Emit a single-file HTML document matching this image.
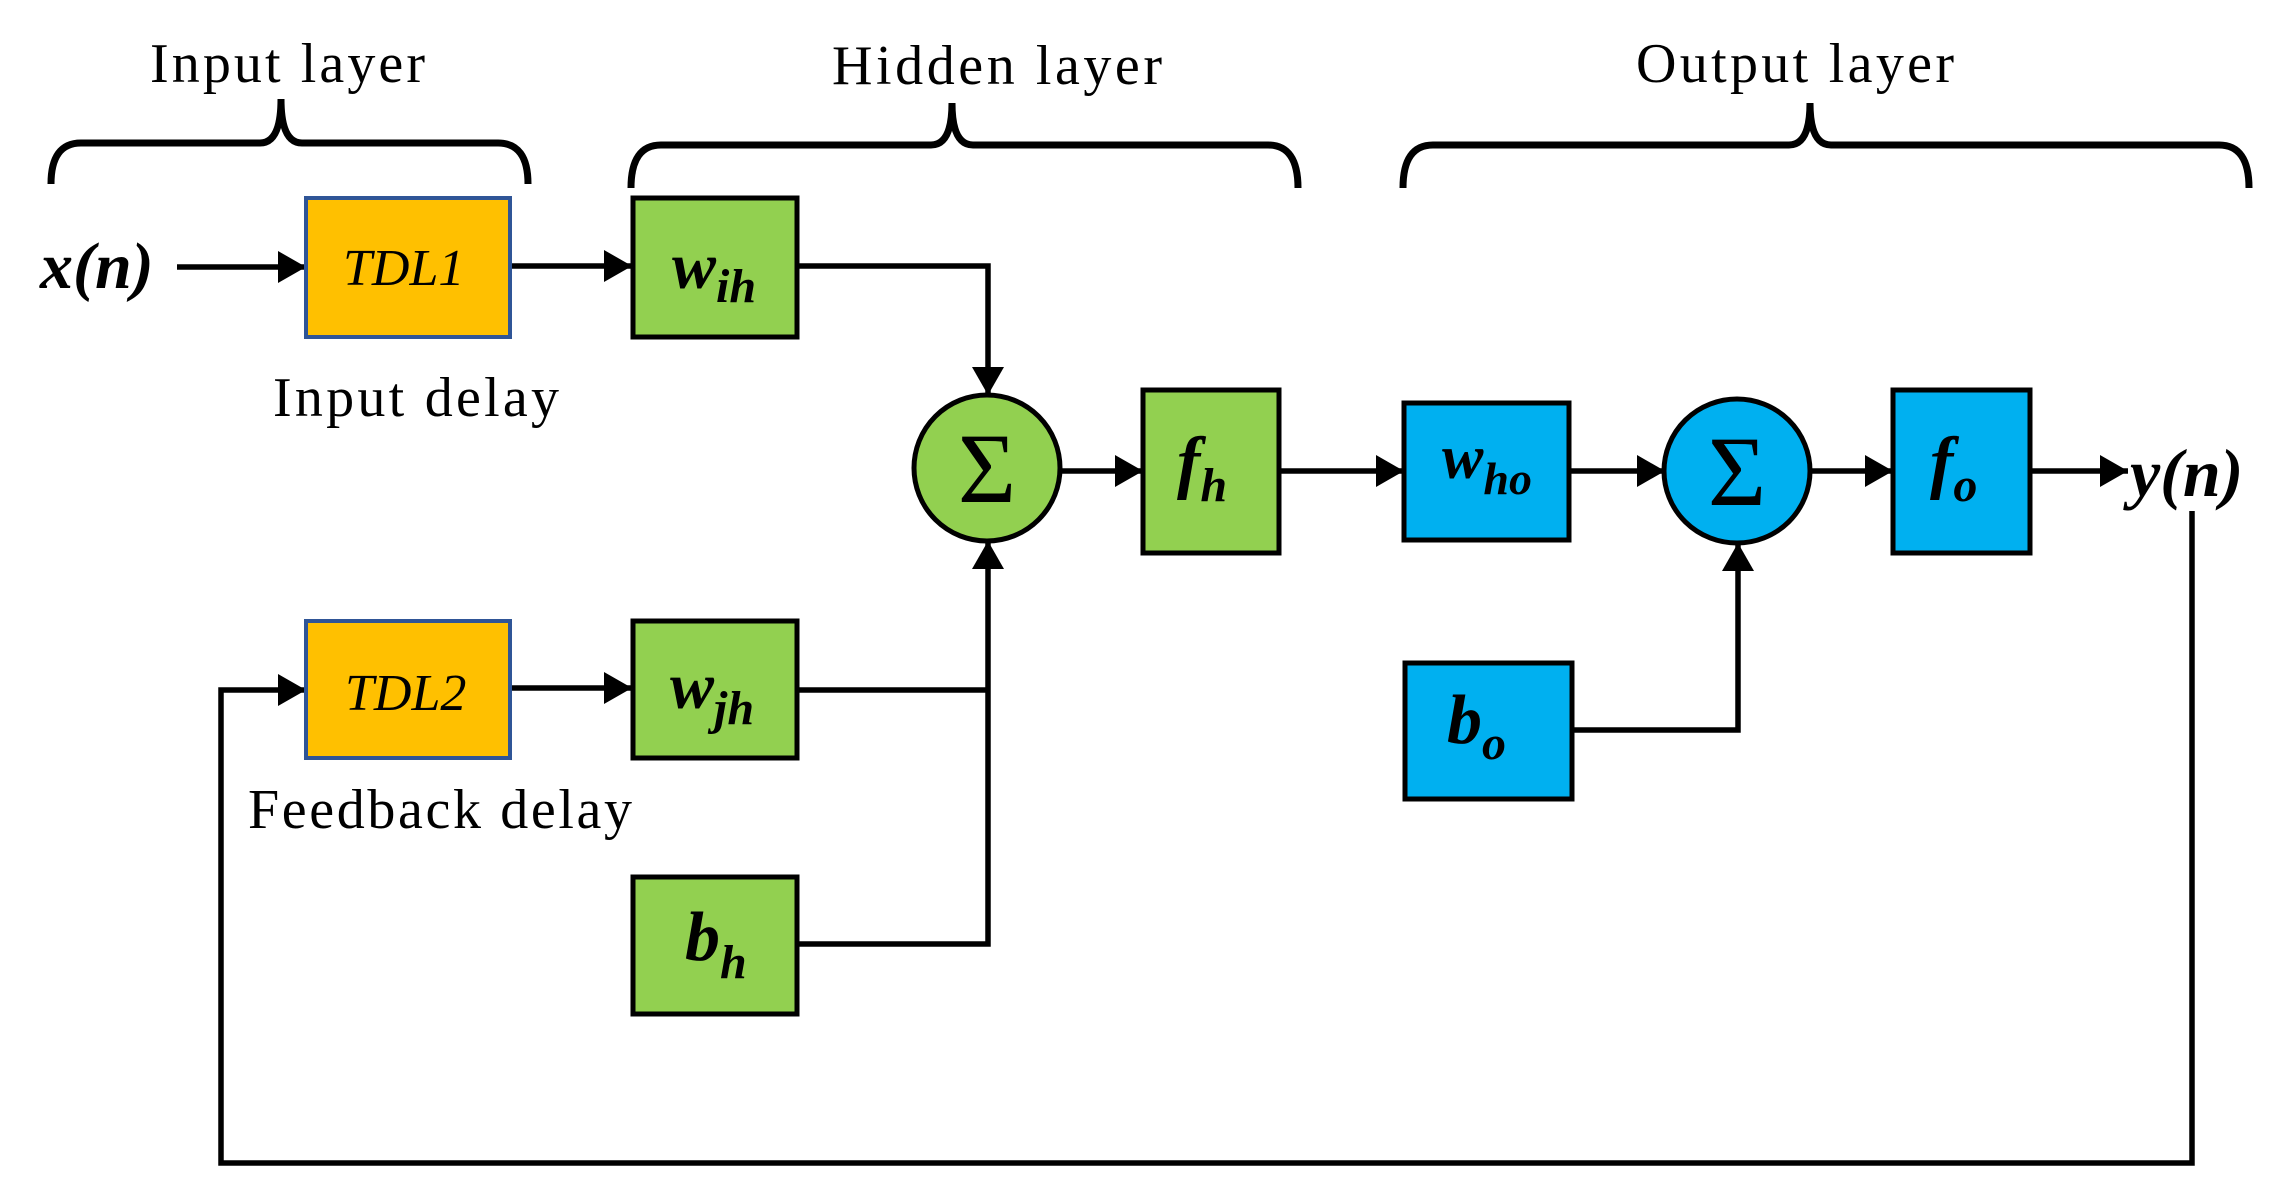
<!DOCTYPE html>
<html><head><meta charset="utf-8"><style>
html,body{margin:0;padding:0;background:#fff;}
svg{display:block;}
text{font-family:"Liberation Serif",serif;fill:#000;}
.m{font-style:italic;font-weight:bold;}
</style></head><body>
<svg width="2291" height="1202" viewBox="0 0 2291 1202" xmlns="http://www.w3.org/2000/svg">
<defs>
<marker id="a" markerWidth="36" markerHeight="36" refX="32" refY="18" orient="auto" markerUnits="userSpaceOnUse">
<path d="M4,2 L32,18 L4,34 z" fill="#000"/></marker>
</defs>
<g fill="none" stroke="#000" stroke-width="7">
<path d="M51,184 Q51,143 81,143 L260,143 Q281,143 281,99 Q281,143 302,143 L498,143 Q528,143 528,184"/>
<path d="M631,188 Q631,145 661,145 L931,145 Q952,145 952,103 Q952,145 973,145 L1268,145 Q1298,145 1298,188"/>
<path d="M1403,188 Q1403,145 1433,145 L1789,145 Q1810,145 1810,103 Q1810,145 1831,145 L2219,145 Q2249,145 2249,188"/>
</g>
<g font-size="56">
<text x="150" y="82" textLength="275">Input layer</text>
<text x="832" y="84" textLength="330">Hidden layer</text>
<text x="1636" y="82" textLength="318">Output layer</text>
<text x="273" y="416" textLength="286">Input delay</text>
<text x="248" y="828" textLength="384">Feedback delay</text>
</g>
<g stroke="#000" stroke-width="5.5" fill="none">
<line x1="177" y1="267" x2="306" y2="267" marker-end="url(#a)"/>
<line x1="511" y1="266" x2="632" y2="266" marker-end="url(#a)"/>
<polyline points="798,266 988,266 988,395" marker-end="url(#a)"/>
<line x1="511" y1="688" x2="632" y2="688" marker-end="url(#a)"/>
<polyline points="798,690 988,690"/>
<polyline points="798,944 988,944 988,541" marker-end="url(#a)"/>
<line x1="1061" y1="471" x2="1143" y2="471" marker-end="url(#a)"/>
<line x1="1280" y1="471" x2="1404" y2="471" marker-end="url(#a)"/>
<line x1="1570" y1="471" x2="1665" y2="471" marker-end="url(#a)"/>
<line x1="1811" y1="471" x2="1893" y2="471" marker-end="url(#a)"/>
<line x1="2031" y1="471" x2="2128" y2="471" marker-end="url(#a)"/>
<polyline points="1572,730 1738,730 1738,543" marker-end="url(#a)"/>
<polyline points="2192,511 2192,1163 221,1163 221,690 306,690" marker-end="url(#a)"/>
</g>
<rect x="306" y="198" width="204" height="139" fill="#FFC000" stroke="#2F5597" stroke-width="4"/>
<rect x="306" y="621" width="204" height="137" fill="#FFC000" stroke="#2F5597" stroke-width="4"/>
<g stroke="#000" stroke-width="5">
<rect x="633" y="198" width="164" height="139" fill="#92D050"/>
<rect x="633" y="621" width="164" height="137" fill="#92D050"/>
<rect x="633" y="877" width="164" height="137" fill="#92D050"/>
<rect x="1143" y="390" width="136" height="163" fill="#92D050"/>
<ellipse cx="987" cy="468" rx="73" ry="73" fill="#92D050"/>
<rect x="1404" y="403" width="165" height="137" fill="#00B0F0"/>
<rect x="1405" y="663" width="167" height="136" fill="#00B0F0"/>
<ellipse cx="1737" cy="471" rx="73" ry="72" fill="#00B0F0"/>
<rect x="1893" y="390" width="137" height="163" fill="#00B0F0"/>
</g>
<g font-size="52" font-style="italic">
<text x="343" y="285">TDL1</text>
<text x="345" y="710">TDL2</text>
</g>
<g class="m">
<text x="40" y="288" font-size="66">x(n)</text>
<text x="2130" y="496" font-size="68">y(n)</text>
<text x="672" y="288" font-size="66">w<tspan font-size="48" dy="14">ih</tspan></text>
<text x="670" y="708" font-size="66">w<tspan font-size="48" dy="16">jh</tspan></text>
<text x="685" y="960" font-size="70">b<tspan font-size="48" dy="18">h</tspan></text>
<text x="1177" y="485" font-size="70">f<tspan font-size="48" dy="16">h</tspan></text>
<text x="1442" y="478" font-size="62">w<tspan font-size="46" dy="16">ho</tspan></text>
<text x="1447" y="743" font-size="70">b<tspan font-size="48" dy="16">o</tspan></text>
<text x="1930" y="485" font-size="70">f<tspan font-size="48" dy="16">o</tspan></text>
</g>
<g font-size="100" text-anchor="middle">
<text x="987" y="502">Σ</text>
<text x="1737" y="505">Σ</text>
</g>
</svg>
</body></html>
